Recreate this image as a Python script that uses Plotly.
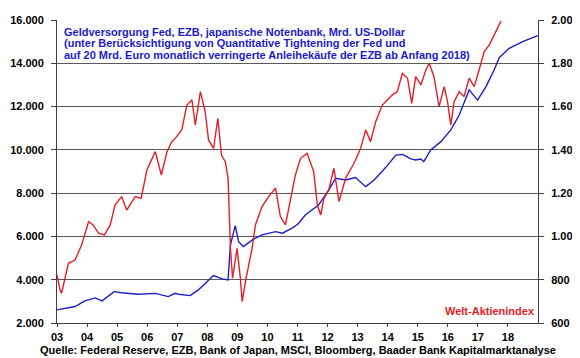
import plotly.graph_objects as go

# Geldversorgung (left axis, Mrd. US-Dollar)
money_x = [2003.0, 2003.3, 2003.6, 2003.93, 2004.27, 2004.5, 2004.9, 2005.15, 2005.7, 2006.27, 2006.7,
           2006.93, 2007.04, 2007.43, 2007.7, 2007.99, 2008.2, 2008.5, 2008.69, 2008.77, 2008.93, 2009.04,
           2009.2, 2009.5, 2009.82, 2010.27, 2010.5, 2010.82, 2011.0, 2011.27, 2011.7, 2012.04, 2012.27,
           2012.6, 2012.93, 2013.27, 2013.55, 2013.93, 2014.27, 2014.5, 2014.77, 2014.93, 2015.1, 2015.2,
           2015.43, 2015.77, 2016.1, 2016.38, 2016.71, 2016.99, 2017.27, 2017.54, 2017.71, 2018.04, 2018.49,
           2018.99]
money_y = [2605, 2680, 2760, 3020, 3160, 3020, 3450, 3400, 3330, 3370, 3220,
           3370, 3330, 3265, 3530, 3910, 4190, 4040, 3990, 5610, 6500, 5760,
           5530, 5840, 6070, 6220, 6150, 6380, 6550, 7000, 7450, 8150, 8690,
           8610, 8720, 8300, 8610, 9180, 9760, 9790, 9580, 9530, 9580, 9455,
           10000, 10380, 10920, 11610, 12770, 12300, 12920, 13690, 14260, 14690, 15000,
           15280]

# Welt-Aktienindex (right axis)
stock_x = [2003.0, 2003.1, 2003.15, 2003.38, 2003.6, 2003.82, 2004.05, 2004.2, 2004.38, 2004.58, 2004.77,
           2004.93, 2005.15, 2005.32, 2005.6, 2005.8, 2005.99, 2006.27, 2006.47, 2006.66, 2006.82, 2006.93,
           2007.15, 2007.32, 2007.49, 2007.6, 2007.77, 2007.93, 2008.04, 2008.21, 2008.35, 2008.47, 2008.6,
           2008.69, 2008.77, 2008.84, 2008.99, 2009.1, 2009.16, 2009.29, 2009.49, 2009.6, 2009.82, 2010.04,
           2010.27, 2010.43, 2010.6, 2010.77, 2010.93, 2011.1, 2011.32, 2011.54, 2011.66, 2011.77, 2011.88,
           2012.04, 2012.21, 2012.38, 2012.6, 2012.88, 2013.1, 2013.27, 2013.43, 2013.6, 2013.82, 2013.99,
           2014.15, 2014.32, 2014.49, 2014.66, 2014.8, 2014.93, 2015.1, 2015.27, 2015.38, 2015.54, 2015.71,
           2015.88, 2015.99, 2016.1, 2016.21, 2016.38, 2016.54, 2016.71, 2016.88, 2017.04, 2017.21, 2017.38,
           2017.54, 2017.77]
stock_y = [822, 753, 737, 876, 891, 961, 1068, 1053, 1015, 1007, 1053,
           1145, 1184, 1122, 1184, 1176, 1307, 1392, 1284, 1392, 1438, 1453,
           1492, 1607, 1630, 1515, 1669, 1576, 1446, 1407, 1546, 1376, 1345,
           1269, 945, 807, 945, 807, 699, 807, 945, 1053, 1138, 1184,
           1223, 1092, 1053, 1176, 1284, 1361, 1384, 1299, 1145, 1099, 1176,
           1215, 1315, 1161, 1269, 1338, 1407, 1492, 1438, 1530, 1607, 1630,
           1653, 1669, 1754, 1731, 1615, 1738, 1700, 1769, 1800, 1738, 1600,
           1692, 1623, 1515, 1623, 1669, 1646, 1731, 1692, 1769, 1854, 1885,
           1931, 1995]

year_ticks = list(range(2003, 2019))
year_labels = ["03", "04", "05", "06", "07", "08", "09", "10", "11", "12", "13", "14", "15", "16", "17", "18"]
left_ticks = [2000, 4000, 6000, 8000, 10000, 12000, 14000, 16000]
left_labels = ["2.000", "4.000", "6.000", "8.000", "10.000", "12.000", "14.000", "16.000"]
right_ticks = [600, 800, 1000, 1200, 1400, 1600, 1800, 2000]
right_labels = ["600", "800", "1.000", "1.200", "1.400", "1.600", "1.800", "2.000"]

title_lines = ["Geldversorgung Fed, EZB, japanische Notenbank, Mrd. US-Dollar",
               "(unter Berücksichtigung von Quantitative Tightening der Fed und",
               "auf 20 Mrd. Euro monatlich verringerte Anleihekäufe der EZB ab Anfang 2018)"]
legend_text = "Welt-Aktienindex"
source_text = "Quelle: Federal Reserve, EZB, Bank of Japan, MSCI, Bloomberg, Baader Bank Kapitalmarktanalyse"

FONT = "Liberation Sans, Arial, sans-serif"
BLUE = "#1c1cc8"
RED = "#e41e26"
BOLD = dict(family=FONT, size=11, color="black", weight="bold")

fig = go.Figure()
fig.add_trace(go.Scatter(x=money_x, y=money_y, mode="lines", line=dict(color=BLUE, width=1.4),
                         yaxis="y", showlegend=False))
fig.add_trace(go.Scatter(x=stock_x, y=stock_y, mode="lines", line=dict(color=RED, width=1.4),
                         yaxis="y2", showlegend=False))

annotations = []
for i, line in enumerate(title_lines):
    annotations.append(dict(text=line, xref="paper", yref="paper", x=0.01, y=0.960 - i * 0.037,
                            xanchor="left", yanchor="middle", showarrow=False, align="left",
                            font=dict(family=FONT, size=11, color=BLUE, weight="bold")))
annotations.append(dict(text=legend_text, xref="paper", yref="paper", x=0.997, y=0.04,
                        xanchor="right", yanchor="middle", showarrow=False,
                        font=dict(family=FONT, size=11, color=RED, weight="bold")))
annotations.append(dict(text=source_text, xref="paper", yref="paper", x=0.5, y=-0.089,
                        xanchor="center", yanchor="middle", showarrow=False, font=BOLD))

# The page body adds an 8 px offset, so the figure is 8 px smaller and margins are shifted.
fig.update_layout(
    width=572, height=350,
    margin=dict(l=49, r=42, t=12, b=35, autoexpand=False),
    paper_bgcolor="white", plot_bgcolor="white",
    font=dict(family=FONT, size=11, color="black"),
    xaxis=dict(range=[2003, 2019], tickvals=year_ticks, ticktext=year_labels,
               showgrid=False, showline=True, linecolor="#404040", linewidth=1,
               ticks="outside", ticklen=3, tickcolor="#404040", zeroline=False,
               ticklabelstandoff=1, tickfont=BOLD),
    yaxis=dict(range=[2000, 16000], tickvals=left_ticks, ticktext=left_labels,
               showgrid=True, gridcolor="#5a5a5a", gridwidth=1.2,
               showline=True, linecolor="#404040", linewidth=1,
               ticks="outside", ticklen=5, tickcolor="#404040", zeroline=False,
               ticklabelstandoff=5, tickfont=BOLD),
    yaxis2=dict(range=[600, 2000], tickvals=right_ticks, ticktext=right_labels,
                overlaying="y", side="right", showgrid=False,
                showline=True, linecolor="#404040", linewidth=1,
                ticks="outside", ticklen=5, tickcolor="#404040", zeroline=False,
                ticklabelstandoff=5, tickfont=BOLD),
    annotations=annotations,
)

fig.write_html("out.html")
